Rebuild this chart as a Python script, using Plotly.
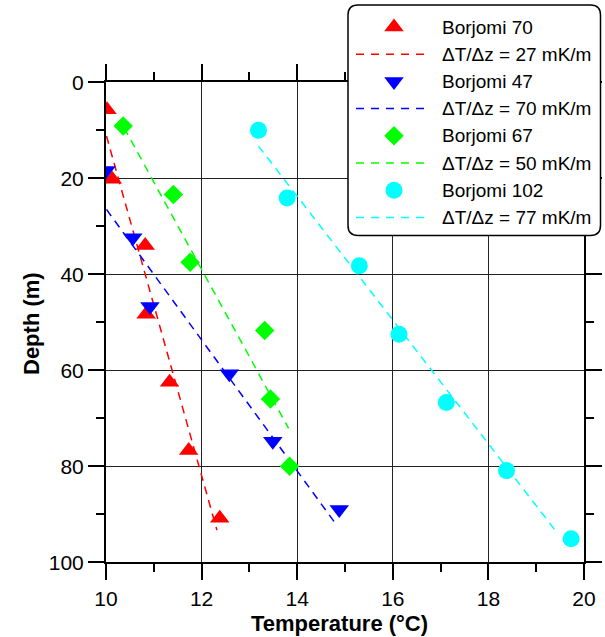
import plotly.graph_objects as go

# ---------------- data ----------------
T_b70 = [10.02, 10.13, 10.82, 10.84, 11.33, 11.73, 12.38]
z_b70 = [5.7, 20.2, 34.0, 48.3, 62.5, 76.7, 90.8]
T_b47 = [10.00, 10.56, 10.92, 12.58, 13.49, 14.88]
z_b47 = [18.4, 32.4, 46.7, 60.7, 74.8, 89.0]
T_b67 = [10.36, 11.41, 11.76, 13.32, 13.44, 13.84]
z_b67 = [9.1, 23.4, 37.5, 51.7, 66.0, 80.0]
T_b102 = [13.19, 13.79, 15.30, 16.13, 17.12, 18.38, 19.73]
z_b102 = [10.0, 24.1, 38.2, 52.5, 66.7, 80.9, 95.1]

fitT_b70 = [10.01, 12.32]
fitz_b70 = [11.2, 93.3]
fitT_b47 = [10.01, 14.80]
fitz_b47 = [26.5, 91.9]
fitT_b67 = [10.38, 13.82]
fitz_b67 = [9.5, 72.1]
fitT_b102 = [13.19, 19.45]
fitz_b102 = [13.3, 94.0]

names = ["Borjomi 70", "Borjomi 47", "Borjomi 67", "Borjomi 102"]
grad_labels = ["ΔT/Δz = 27 mK/m", "ΔT/Δz = 70 mK/m",
               "ΔT/Δz = 50 mK/m", "ΔT/Δz = 77 mK/m"]

# ---------------- styles ----------------
colors = ["#FF0000", "#0000FF", "#00FF00", "#00FFFF"]
symbols = ["triangle-up", "triangle-down", "diamond", "circle"]
msizes = [17, 17, 15, 17]
FONT = "Arial, Liberation Sans, sans-serif"
W, H = 605, 637

series_T = [T_b70, T_b47, T_b67, T_b102]
series_z = [z_b70, z_b47, z_b67, z_b102]
fits_T = [fitT_b70, fitT_b47, fitT_b67, fitT_b102]
fits_z = [fitz_b70, fitz_b47, fitz_b67, fitz_b102]

fig = go.Figure()

for i in range(4):
    fig.add_trace(go.Scatter(x=fits_T[i], y=fits_z[i], mode="lines",
                             line=dict(color=colors[i], width=1.5, dash="8px,6px"),
                             showlegend=False, hoverinfo="skip"))
for i in range(4):
    fig.add_trace(go.Scatter(x=series_T[i], y=series_z[i], mode="markers",
                             marker=dict(symbol=symbols[i], size=msizes[i],
                                         color=colors[i], line=dict(width=0)),
                             name=names[i], showlegend=False))

# ---------------- hand-built legend on its own pixel-scaled axes ----------------
LX0, LX1, LY0, LY1 = 344, 604, 1, 240          # legend axes extent (pixels)
BOX = dict(l=348, r=600.5, t=5, b=235.5, rad=10)
row0, row_step = 27, 27.2
sym_x, line_x0, line_x1, text_x = 394, 356, 427, 440

for i in range(4):
    ym = row0 + row_step * (2 * i)
    yl = row0 + row_step * (2 * i + 1)
    fig.add_trace(go.Scatter(x=[sym_x], y=[ym], mode="markers", xaxis="x2", yaxis="y2",
                             marker=dict(symbol=symbols[i], size=msizes[i],
                                         color=colors[i], line=dict(width=0)),
                             showlegend=False, hoverinfo="skip"))
    fig.add_trace(go.Scatter(x=[line_x0, line_x1], y=[yl, yl], mode="lines",
                             xaxis="x2", yaxis="y2",
                             line=dict(color=colors[i], width=1.5, dash="8px,7px"),
                             showlegend=False, hoverinfo="skip"))
    fig.add_annotation(x=text_x, y=ym, xref="x2", yref="y2", text=names[i],
                       showarrow=False, xanchor="left", yanchor="middle",
                       font=dict(family=FONT, size=19, color="black"))
    fig.add_annotation(x=text_x, y=yl, xref="x2", yref="y2", text=grad_labels[i],
                       showarrow=False, xanchor="left", yanchor="middle",
                       font=dict(family=FONT, size=19, color="black"))

L, R, T, B, r = BOX["l"], BOX["r"], BOX["t"], BOX["b"], BOX["rad"]
path = (f"M {L+r},{T} L {R-r},{T} Q {R},{T} {R},{T+r} L {R},{B-r} "
        f"Q {R},{B} {R-r},{B} L {L+r},{B} Q {L},{B} {L},{B-r} L {L},{T+r} "
        f"Q {L},{T} {L+r},{T} Z")
fig.add_shape(type="path", path=path, xref="x2", yref="y2", layer="below",
              fillcolor="white", line=dict(color="black", width=1.5))

# ---------------- axes ----------------
px0, px1, py_top, py_bot = 106, 584, 82.3, 562.3
axis_common = dict(
    ticks="outside", ticklen=16, tickwidth=1.5, tickcolor="black",
    showline=True, linewidth=2, linecolor="black", mirror="allticks",
    showgrid=True, gridcolor="#222222", gridwidth=1, zeroline=False,
    tickfont=dict(family=FONT, size=21, color="black"), automargin=False,
)
fig.update_layout(
    width=W, height=H, template="none",
    margin=dict(l=0, r=0, t=0, b=0, pad=0),
    paper_bgcolor="white", plot_bgcolor="rgba(0,0,0,0)",
    showlegend=False,
    xaxis=dict(range=[10, 20], tick0=10, dtick=2,
               domain=[px0 / W, px1 / W],
               minor=dict(dtick=1, ticklen=8, tickwidth=1.5, tickcolor="black",
                          ticks="outside", showgrid=False),
               **axis_common),
    yaxis=dict(range=[100, 0], tick0=0, dtick=20,
               domain=[(H - py_bot) / H, (H - py_top) / H],
               minor=dict(dtick=10, ticklen=8, tickwidth=1.5, tickcolor="black",
                          ticks="outside", showgrid=False),
               **axis_common),
    xaxis2=dict(range=[LX0, LX1], domain=[LX0 / W, LX1 / W], visible=False,
                anchor="y2", fixedrange=True),
    yaxis2=dict(range=[LY1, LY0], domain=[(H - LY1) / H, (H - LY0) / H], visible=False,
                anchor="x2", fixedrange=True),
)

fig.add_annotation(x=339 / W, y=1 - 623 / H, xref="paper", yref="paper",
                   text="<b>Temperature (°C)</b>", showarrow=False,
                   xanchor="center", yanchor="middle",
                   font=dict(family=FONT, size=22, color="black"))
fig.add_annotation(x=31 / W, y=1 - 324 / H, xref="paper", yref="paper",
                   text="<b>Depth (m)</b>", showarrow=False, textangle=-90,
                   xanchor="center", yanchor="middle",
                   font=dict(family=FONT, size=22, color="black"))

fig.write_html("out.html")
